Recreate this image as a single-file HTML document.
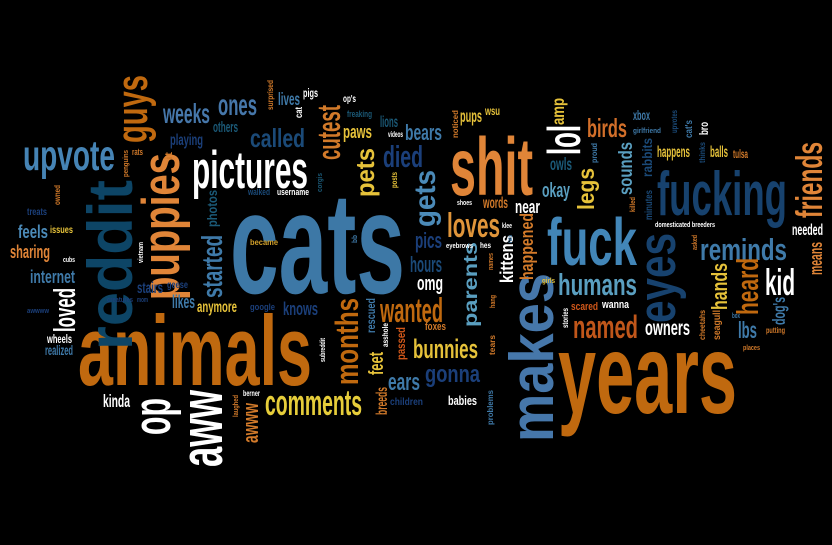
<!DOCTYPE html>
<html><head><meta charset="utf-8"><title>Word cloud</title>
<style>
html,body{margin:0;padding:0;background:#000;}
svg{display:block;}
text{font-family:"Liberation Sans Narrow","Liberation Sans",sans-serif;font-weight:bold;}
</style></head>
<body>
<svg id="cloud" width="832" height="545" viewBox="0 0 832 545" xmlns="http://www.w3.org/2000/svg">
<rect width="832" height="545" fill="#000"/>
</svg>
<script>
// orientation, word, x / baseline, y / start, font size, length, colour
const words = [
['h','cats',230,293,168,175,'#3d78a6'],
['h','animals',78,385,115,234,'#c0690f'],
['h','years',558,413,132,179,'#c0690f'],
['v','makes',553,442,72,169,'#4677aa'],
['h','fuck',547,265,78,90,'#4286b8'],
['h','shit',450,195,95,83,'#e08538'],
['h','fucking',657,215,72,130,'#17426e'],
['v','eyes',675,323,62,90,'#17426e'],
['h','pictures',192,188,61,116,'#ffffff'],
['h','upvote',23,170,50,92,'#4684b5'],
['v','reddit',132,350,73,170,'#0d4566'],
['v','puppies',179,300,61,147,'#e08538'],
['v','guys',147,143,51,68,'#c0690f'],
['v','aww',222,467,70,77,'#ffffff'],
['v','op',170,435,61,37,'#ffffff'],
['h','comments',265,415,42,97,'#e6cd3a'],
['v','months',358,385,38,87,'#c0690f'],
['v','lol',580,155,54,30,'#ffffff'],
['v','amp',564,125,20,27,'#e6c23a'],
['v','legs',594,210,27,42,'#e6c23a'],
['h','birds',587,137,30,40,'#d26f2a'],
['h','loves',447,237,40,53,'#e0953a'],
['h','humans',558,295,36,79,'#5a9fc0'],
['h','named',573,338,38,65,'#c0561a'],
['h','reminds',700,260,36,87,'#3f7aa9'],
['h','kid',765,295,43,30,'#ffffff'],
['v','friends',822,218,43,76,'#e08538'],
['v','heard',758,315,35,57,'#c0690f'],
['v','hands',727,310,26,47,'#e6c23a'],
['h','owners',645,335,25,45,'#ffffff'],
['h','lbs',738,338,27,19,'#3f7aa9'],
['h','needed',792,235,18,31,'#ffffff'],
['v','means',822,275,22,33,'#e08538'],
['v','sounds',632,195,23,53,'#5a9fc0'],
['v','rabbits',652,177,16,39,'#1b4a78'],
['h','bunnies',413,358,31,65,'#e6c23a'],
['h','gonna',425,382,28,55,'#1b3f7a'],
['v','parents',477,327,23,85,'#5a9fc0'],
['v','happened',533,280,21,67,'#d27a2a'],
['v','kittens',513,283,22,48,'#ffffff'],
['v','gets',435,227,34,57,'#4b8ab8'],
['h','pics',415,248,26,27,'#1b3f7a'],
['h','hours',410,272,26,32,'#1b4a78'],
['h','omg',417,290,24,26,'#ffffff'],
['h','wanted',380,322,40,63,'#c0690f'],
['h','okay',542,197,24,28,'#5a9fc0'],
['h','near',515,213,22,25,'#ffffff'],
['h','owls',550,170,20,22,'#1b5a78'],
['h','pups',460,122,20,22,'#e6c23a'],
['h','wsu',485,115,14,15,'#e6c23a'],
['h','happens',657,157,18,33,'#e6c23a'],
['h','balls',710,157,18,18,'#e6c23a'],
['h','tulsa',733,158,14,15,'#d27a2a'],
['h','xbox',633,120,16,17,'#3f7aa9'],
['v','bro',708,135,14,13,'#ffffff'],
['h','words',483,208,18,25,'#d27a2a'],
['h','bears',405,140,26,37,'#3f7aa9'],
['h','weeks',163,123,32,47,'#4677aa'],
['h','ones',218,115,34,39,'#4677aa'],
['h','called',250,147,30,55,'#1b4a78'],
['v','cutest',340,160,38,55,'#d27a2a'],
['v','pets',374,197,30,49,'#e6c23a'],
['h','died',383,167,36,40,'#1b3f7a'],
['h','paws',343,138,22,29,'#e6c23a'],
['h','lives',278,105,20,22,'#3f7aa9'],
['h','pigs',303,97,14,15,'#ffffff'],
['h','lions',380,127,18,18,'#1b5a78'],
['h','others',213,132,17,25,'#1b5a78'],
['h','playing',170,145,18,33,'#1b3f7a'],
['h','sharing',10,258,22,40,'#e08538'],
['h','feels',18,238,22,30,'#4b8ab8'],
['h','internet',30,283,22,45,'#3f7aa9'],
['v','loved',75,332,36,44,'#ffffff'],
['h','wheels',47,343,14,25,'#ffffff'],
['h','realized',45,355,16,28,'#3f7aa9'],
['v','started',222,298,33,63,'#3f7aa9'],
['v','photos',217,227,16,37,'#1b5a78'],
['h','stairs',137,293,18,26,'#1b3f7a'],
['h','likes',172,308,22,23,'#3f7aa9'],
['h','anymore',197,312,18,40,'#e6c23a'],
['h','knows',283,315,22,35,'#1b3f7a'],
['h','kinda',103,407,20,27,'#ffffff'],
['v','awww',258,443,26,40,'#d27a2a'],
['v','rescued',375,333,14,35,'#3f7aa9'],
['v','feet',383,375,24,23,'#e6c23a'],
['v','passed',405,360,14,33,'#d2581a'],
['h','ears',388,390,28,32,'#3f7aa9'],
['v','breeds',387,415,18,28,'#d27a2a'],
['v','it',172,160,12,8,'#d27a2a'],
['h','treats',27,215,12,20,'#1b3f7a'],
['h','issues',50,233,12,23,'#e6c23a'],
['v','owned',60,205,10,20,'#d27a2a'],
['v','penguins',128,177,9,27,'#d27a2a'],
['h','rats',132,155,11,11,'#d27a2a'],
['h','walked',248,195,11,22,'#1b4a78'],
['h','username',277,195,11,32,'#ffffff'],
['v','corgis',322,192,9,19,'#1b5a78'],
['h','became',250,245,10,28,'#d2a02a'],
['h','geese',167,288,12,21,'#1b3f7a'],
['h','creatures',107,302,9,26,'#1b3f7a'],
['h','mom',137,302,9,11,'#1b3f7a'],
['h','awwww',27,313,9,22,'#1b3f7a'],
['h','google',250,310,11,25,'#1b3f7a'],
['v','vietnam',143,263,9,21,'#ffffff'],
['h','cubs',63,262,8,12,'#ffffff'],
['h','berner',243,396,10,17,'#ffffff'],
['v','laughed',238,417,9,22,'#d27a2a'],
['v','subreddit',325,362,9,24,'#ffffff'],
['v','asshole',388,347,10,24,'#ffffff'],
['v','bb',357,243,9,8,'#3f7aa9'],
['v','posts',397,188,10,16,'#e6c23a'],
['v','surprised',273,110,10,30,'#d27a2a'],
['v','cat',302,118,12,11,'#ffffff'],
['h','op\'s',343,102,12,13,'#ffffff'],
['h','freaking',347,117,11,25,'#1b5a78'],
['h','videos',388,137,10,15,'#ffffff'],
['h','children',390,405,12,33,'#1b3f7a'],
['v','noticed',458,138,10,28,'#d27a2a'],
['h','shoes',457,205,9,15,'#ffffff'],
['h','eyebrows',446,248,9,27,'#ffffff'],
['h','hes',480,248,10,11,'#ffffff'],
['h','klee',502,228,8,10,'#ffffff'],
['v','rats',512,243,7,8,'#3f7aa9'],
['v','names',493,270,8,17,'#d27a2a'],
['v','hang',495,308,9,13,'#d27a2a'],
['h','girls',542,283,9,13,'#e6c23a'],
['v','tears',495,355,10,20,'#d27a2a'],
['h','foxes',425,330,13,21,'#d27a2a'],
['h','babies',448,405,15,29,'#ffffff'],
['v','problems',493,425,10,35,'#3f7aa9'],
['v','stories',568,328,10,20,'#ffffff'],
['h','scared',571,310,13,27,'#d2581a'],
['h','wanna',602,308,13,27,'#ffffff'],
['h','domesticated breeders',655,227,8,60,'#ffffff'],
['v','killed',635,212,8,15,'#d27a2a'],
['v','minutes',652,220,12,30,'#1b4a78'],
['v','proud',597,163,10,20,'#3f7aa9'],
['h','girlfriend',633,133,9,28,'#3f7aa9'],
['v','upvotes',677,133,10,23,'#1b4a78'],
['v','cat\'s',692,138,12,18,'#3f7aa9'],
['v','thinks',705,163,10,21,'#1b4a78'],
['v','asked',697,250,8,15,'#d27a2a'],
['v','seagull',720,340,12,30,'#d27a2a'],
['v','cheetahs',705,340,10,30,'#d27a2a'],
['h','box',732,318,9,8,'#3f7aa9'],
['v','dog\'s',785,325,20,28,'#3f7aa9'],
['h','putting',766,333,10,19,'#d27a2a'],
['h','places',743,350,8,17,'#d27a2a']
];
const SIZE_SCALE = 0.86;
const svg = document.getElementById('cloud');
const NS = 'http://www.w3.org/2000/svg';
words.forEach(function(w){
  const t = document.createElementNS(NS,'text');
  t.textContent = w[1];
  t.setAttribute('x', 0);
  t.setAttribute('y', 0);
  t.setAttribute('font-size', (w[4] * SIZE_SCALE).toFixed(1));
  t.setAttribute('textLength', w[5]);
  t.setAttribute('lengthAdjust', 'spacingAndGlyphs');
  t.setAttribute('fill', w[6]);
  if (w[0] === 'h') {
    t.setAttribute('transform', 'translate(' + w[2] + ',' + w[3] + ')');
  } else {
    t.setAttribute('transform', 'translate(' + w[2] + ',' + w[3] + ') rotate(-90)');
  }
  
  
  svg.appendChild(t);
});
</script>
</body></html>
